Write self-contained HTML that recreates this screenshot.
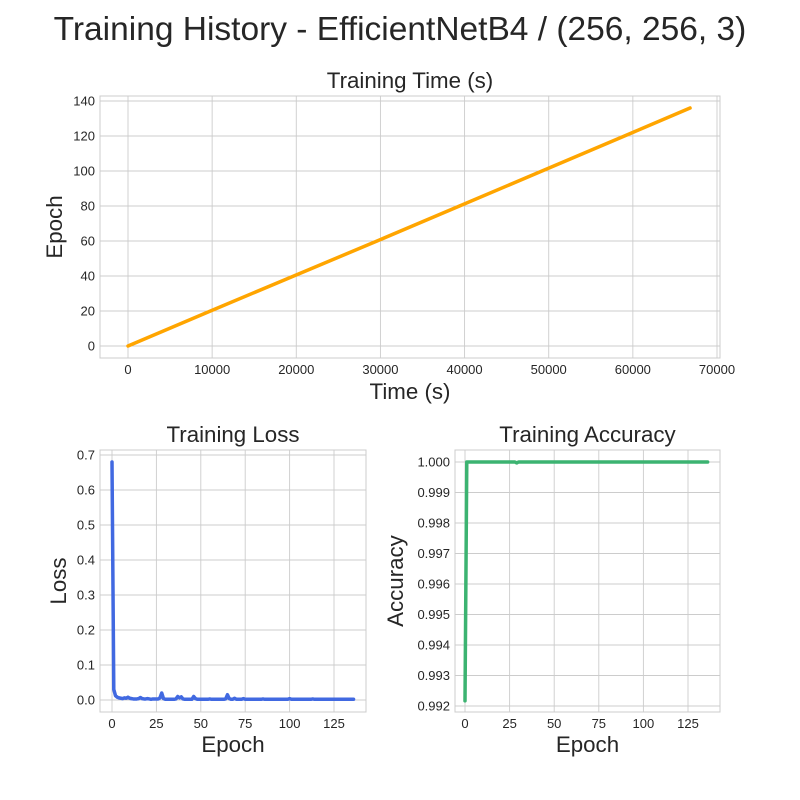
<!DOCTYPE html>
<html><head><meta charset="utf-8"><style>
html,body{margin:0;padding:0;background:#fff}
svg{display:block;font-family:"Liberation Sans",sans-serif}
</style></head><body>
<svg id="c" width="800" height="800"></svg>
<script>
const timeEpochs=[0,20,40,60,80,100,120,136];
const timeValues=[0,9800,19700,29600,39400,49200,59000,66800];
const timeXTicks=[0,10000,20000,30000,40000,50000,60000,70000];
const timeYTicks=[0,20,40,60,80,100,120,140];
const lossValues=[0.68,0.03,0.012,0.008,0.006,0.005,0.004,0.006,0.005,0.008,
0.005,0.004,0.003,0.003,0.003,0.004,0.007,0.004,0.003,0.003,
0.004,0.003,0.002,0.003,0.003,0.003,0.003,0.006,0.02,0.004,
0.002,0.002,0.002,0.002,0.002,0.002,0.003,0.01,0.006,0.009,
0.003,0.002,0.002,0.002,0.002,0.002,0.01,0.004,0.002,0.002,
0.002,0.002,0.002,0.002,0.002,0.003,0.002,0.002,0.002,0.002,
0.002,0.002,0.002,0.002,0.003,0.015,0.004,0.002,0.002,0.005,
0.002,0.002,0.002,0.002,0.004,0.002,0.002,0.002,0.002,0.002,
0.002,0.002,0.002,0.002,0.002,0.003,0.002,0.002,0.002,0.002,
0.002,0.002,0.002,0.002,0.002,0.002,0.002,0.002,0.002,0.002,
0.004,0.002,0.002,0.002,0.002,0.002,0.002,0.002,0.002,0.002,
0.002,0.002,0.002,0.003,0.002,0.002,0.002,0.002,0.002,0.002,
0.002,0.002,0.002,0.002,0.002,0.002,0.002,0.002,0.002,0.002,
0.002,0.002,0.002,0.002,0.002,0.002,0.002];
const accEpochs=[0,1,28,29,30,136];
const accValues=[0.99217,1.0,1.0,0.99997,1.0,1.0];
const lossXTicks=[0,25,50,75,100,125];
const lossYTicks=[0,0.1,0.2,0.3,0.4,0.5,0.6,0.7];
const accYTicks=[0.992,0.993,0.994,0.995,0.996,0.997,0.998,0.999,1.0];

const svg=document.getElementById('c');
const NS='http://www.w3.org/2000/svg';
function mk(tag,attrs,parent){const e=document.createElementNS(NS,tag);for(const k in attrs)e.setAttribute(k,attrs[k]);(parent||svg).appendChild(e);return e;}
function txt(s,x,y,size,anchor,parent,rot){const t=mk('text',{x:x,y:y,'font-size':size,'text-anchor':anchor||'middle',fill:'#262626'},parent);if(rot)t.setAttribute('transform','rotate(-90 '+x+' '+y+')');t.textContent=s;return t;}

const title=txt('Training History - EfficientNetB4 / (256, 256, 3)',400,40,33.5);



function panel(o){
  const g=mk('g',{});
  
  
  const sx=v=>o.px0+(v-o.x0)*(o.px1-o.px0)/(o.x1-o.x0);
  const sy=v=>o.py0+(v-o.y0)*(o.py1-o.py0)/(o.y1-o.y0);
  mk('rect',{x:o.L,y:o.T,width:o.R-o.L,height:o.B-o.T,fill:'#fff'},g);
  o.xt.forEach(v=>{const x=sx(v);mk('line',{x1:x,x2:x,y1:o.T,y2:o.B,stroke:'#ccc','stroke-width':0.9},g);
    const t=txt(o.xf(v),x,o.B+16,13,'middle',g);});
  o.yt.forEach(v=>{const y=sy(v);mk('line',{x1:o.L,x2:o.R,y1:y,y2:y,stroke:'#ccc','stroke-width':0.9},g);
    const t=txt(o.yf(v),o.L-5,y+4.5,13,'end',g);});
  mk('rect',{x:o.L,y:o.T,width:o.R-o.L,height:o.B-o.T,fill:'none',stroke:'#ccc','stroke-width':1},g);
  const d=o.xs.map((v,i)=>(i?'L':'M')+sx(v).toFixed(2)+','+sy(o.ys[i]).toFixed(2)).join('');
  const p=mk('path',{d:d,fill:'none',stroke:o.color,'stroke-width':3.5,'stroke-linejoin':'round','stroke-linecap':'round'},g);
  
  
  const st=txt(o.title,(o.L+o.R)/2,o.T-8,22.3,'middle',g);
  
  const xl=txt(o.xlabel,(o.L+o.R)/2,o.xlY,22.3,'middle',g);
  
  const yl=txt(o.ylabel,o.ylX,(o.T+o.B)/2,22.3,'middle',g,true);
  
}
panel({name:'training-time-chart',L:100,R:720,T:96,B:358,x0:0,x1:70000,px0:128,px1:717,y0:0,y1:140,py0:346,py1:101,
 xt:timeXTicks,yt:timeYTicks,xf:v=>String(v),yf:v=>String(v),xs:timeValues,ys:timeEpochs,color:'#ffa500',series:'time-line',
 title:'Training Time (s)',xlabel:'Time (s)',xlY:399,ylabel:'Epoch',ylX:62});
panel({name:'training-loss-chart',L:100,R:366,T:450,B:712,x0:0,x1:125,px0:112,px1:334,y0:0,y1:0.7,py0:700,py1:455,
 xt:lossXTicks,yt:lossYTicks,xf:v=>String(v),yf:v=>v.toFixed(1),xs:lossValues.map((v,i)=>i),ys:lossValues,color:'#4169e1',series:'loss-line',
 title:'Training Loss',xlabel:'Epoch',xlY:752,ylabel:'Loss',ylX:66});
panel({name:'training-accuracy-chart',L:455,R:720,T:450,B:712,x0:0,x1:125,px0:465,px1:688,y0:0.992,y1:1.0,py0:706,py1:462,
 xt:lossXTicks,yt:accYTicks,xf:v=>String(v),yf:v=>v.toFixed(3),xs:accEpochs,ys:accValues,color:'#3cb371',series:'accuracy-line',
 title:'Training Accuracy',xlabel:'Epoch',xlY:752,ylabel:'Accuracy',ylX:403});
</script>
</body></html>
